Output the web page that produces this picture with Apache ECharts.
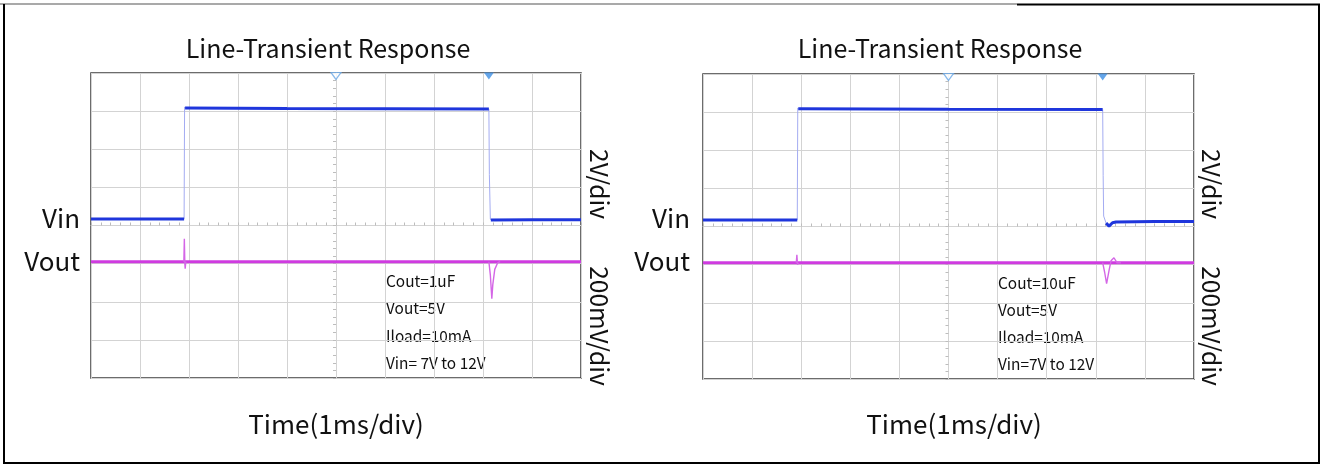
<!DOCTYPE html>
<html>
<head>
<meta charset="utf-8">
<title>Line-Transient Response</title>
<script src="https://cdn.jsdelivr.net/npm/echarts@6/dist/echarts.min.js"></script>
<style>
  html, body { margin: 0; padding: 0; background: #ffffff; }
  #chart { width: 1323px; height: 467px; }
</style>
</head>
<body>
<div id="chart"></div>
<script>
// Scope captures: time in ms (1 ms/div), Vin in V, Vout in V.
const timeRange = [0, 10];
const divRange = [-4, 4];            // 8 vertical divisions, centred
const triggerTime = 5.0;             // trigger marker (hollow)

// Left capture: Cout = 1uF
const vinLevelsL = [
  [[0, 7.0], [1.90, 7.0]],
  [[1.92, 12.0], [4.0, 11.98], [6.0, 11.97], [8.12, 11.955]],
  [[8.16, 6.96], [9.0, 6.97], [10, 6.97]]
];
const vinEdgesL = [
  [[1.90, 7.0], [1.91, 12.05], [1.92, 12.0]],
  [[8.12, 11.955], [8.13, 9.0], [8.15, 7.0], [8.16, 6.96]]
];
const voutLevelL = [[0, 5.0], [10, 5.0]];
const voutTransL = [
  [[1.895, 5.0], [1.905, 5.12], [1.915, 4.99], [1.922, 4.963], [1.935, 5.0]],
  [[8.12, 5.0], [8.15, 4.93], [8.18, 4.806], [8.20, 4.88], [8.24, 4.96], [8.30, 4.995], [8.35, 5.0]]
];
const cursorTimeL = 8.12;
const notesL = ['Cout=1uF', 'Vout=5V', 'Iload=10mA', 'Vin= 7V to 12V'];

// Right capture: Cout = 10uF
const vinLevelsR = [
  [[0, 7.0], [1.92, 7.0]],
  [[1.94, 12.02], [5.0, 11.99], [8.14, 11.98]],
  [[8.21, 6.86], [8.27, 6.73], [8.34, 6.88], [8.41, 6.91], [9.2, 6.93], [10, 6.94]]
];
const vinEdgesR = [
  [[1.92, 7.0], [1.93, 12.05], [1.94, 12.02]],
  [[8.14, 11.98], [8.15, 9.0], [8.16, 7.18], [8.21, 6.86]]
];
const voutLevelR = [[0, 5.0], [10, 5.0]];
const voutTransR = [
  [[1.90, 5.0], [1.912, 5.042], [1.925, 4.99], [1.94, 5.0]],
  [[8.14, 5.0], [8.18, 4.95], [8.22, 4.89], [8.27, 4.96], [8.31, 5.01], [8.37, 5.026], [8.43, 5.0], [8.51, 5.0]]
];
const cursorTimeR = 8.14;
const notesR = ['Cout=10uF', 'Vout=5V', 'Iload=10mA', 'Vin=7V to 12V'];

const chartTitle = 'Line-Transient Response';
const timeLabel = 'Time(1ms/div)';
const vinScaleLabel = '2V/div';
const voutScaleLabel = '200mV/div';

// Channel axis windows (volts shown across the 8 divisions)
const vinWindow = [-0.16, 13.58];
const voutWindow = [4.39, 5.99];

const VIN_COLOR = '#1f36dc';
const VIN_EDGE = '#a4acf2';
const VOUT_COLOR = '#cf3be0';
const VOUT_EDGE = '#d466e6';
const GRID_LINE = '#d3d3d3';
const FONT = '"Noto Sans CJK SC", "Noto Sans", sans-serif';

const chart = echarts.init(document.getElementById('chart'), null, { renderer: 'canvas' });

// join several trace segments into one broken polyline
function joinSegments(segs) {
  const out = [];
  segs.forEach((s, i) => {
    if (i) out.push(['-', '-']);
    s.forEach(p => out.push(p));
  });
  return out;
}

const grids = [
  { left: 91, top: 73, width: 490, height: 305 },
  { left: 703, top: 74, width: 491, height: 305 }
];

const xAxes = [];
const yAxes = [];
const series = [];

const captures = [
  { vinLevels: vinLevelsL, vinEdges: vinEdgesL, voutLevel: voutLevelL, voutTrans: voutTransL, cursor: cursorTimeL },
  { vinLevels: vinLevelsR, vinEdges: vinEdgesR, voutLevel: voutLevelR, voutTrans: voutTransR, cursor: cursorTimeR }
];

captures.forEach((c, g) => {
  const xt = xAxes.length, xc = xt + 1;
  const yd = yAxes.length, yv = yd + 1, yo = yd + 2;
  // time axis: vertical graticule
  xAxes.push({
    type: 'value', gridIndex: g, min: timeRange[0], max: timeRange[1], interval: 1,
    position: 'bottom',
    axisLine: { show: false, onZero: false }, axisTick: { show: false }, axisLabel: { show: false },
    splitLine: { show: true, lineStyle: { color: GRID_LINE, width: 1 } }
  });
  // centre horizontal reference line with fine ticks
  xAxes.push({
    type: 'value', gridIndex: g, min: -5, max: 5, interval: 1, position: 'top',
    axisLine: { show: true, onZero: true, onZeroAxisIndex: yd, lineStyle: { color: GRID_LINE, width: 1 } },
    axisTick: { show: true, length: 3, lineStyle: { color: '#bdbdbd' } },
    minorTick: { show: true, splitNumber: 5, length: 3, lineStyle: { color: '#bdbdbd' } },
    axisLabel: { show: false }, splitLine: { show: false }
  });
  // division axis: horizontal graticule + centre vertical line with fine ticks
  yAxes.push({
    type: 'value', gridIndex: g, min: divRange[0], max: divRange[1], interval: 1, position: 'left',
    axisLine: { show: true, onZero: true, onZeroAxisIndex: xc, lineStyle: { color: GRID_LINE, width: 1 } },
    axisTick: { show: true, length: 3, lineStyle: { color: '#bdbdbd' } },
    minorTick: { show: true, splitNumber: 5, length: 3, lineStyle: { color: '#bdbdbd' } },
    axisLabel: { show: false },
    splitLine: { show: true, lineStyle: { color: GRID_LINE, width: 1 } }
  });
  yAxes.push({ type: 'value', gridIndex: g, min: vinWindow[0], max: vinWindow[1], show: false, axisLine: { onZero: false } });
  yAxes.push({ type: 'value', gridIndex: g, min: voutWindow[0], max: voutWindow[1], show: false, axisLine: { onZero: false } });

  const common = { type: 'line', xAxisIndex: xt, showSymbol: false, symbol: 'none', silent: true, animation: false, connectNulls: false };
  series.push(Object.assign({}, common, {
    yAxisIndex: yv, data: joinSegments(c.vinEdges), z: 3,
    lineStyle: { color: VIN_EDGE, width: 1 }
  }));
  series.push(Object.assign({}, common, {
    yAxisIndex: yv, data: joinSegments(c.vinLevels), z: 4,
    lineStyle: { color: VIN_COLOR, width: 3 }
  }));
  series.push(Object.assign({}, common, {
    yAxisIndex: yo, data: c.voutLevel, z: 4,
    lineStyle: { color: VOUT_COLOR, width: 3 }
  }));
  series.push(Object.assign({}, common, {
    yAxisIndex: yo, data: joinSegments(c.voutTrans), z: 5,
    lineStyle: { color: VOUT_EDGE, width: 1.4 }
  }));
  // trigger / cursor markers on the top edge
  series.push({
    type: 'scatter', xAxisIndex: xt, yAxisIndex: yd, silent: true, animation: false, clip: false, z: 6,
    symbol: 'triangle', symbolRotate: 180, symbolSize: [10, 7], symbolOffset: [0, 3],
    data: [{ value: [triggerTime, divRange[1]], itemStyle: { color: '#ffffff', borderColor: '#6aa8e6', borderWidth: 1.2 } },
           { value: [c.cursor, divRange[1]], itemStyle: { color: '#3d8ee3' } }]
  });
});

function text(x, y, str, size, opts) {
  return Object.assign({
    type: 'text', x: x, y: y, silent: true,
    style: Object.assign({ text: str, fontSize: size, fontFamily: FONT, fill: '#111111',
      align: 'center', verticalAlign: 'middle' }, (opts && opts.style) || {})
  }, opts ? { rotation: opts.rotation || 0 } : {});
}

const graphic = [];
// outer frame
graphic.push({ type: 'line', silent: true, shape: { x1: 0, y1: 4, x2: 1017, y2: 4 }, style: { stroke: '#555555', lineWidth: 1.2 } });
graphic.push({ type: 'polyline', silent: true, shape: { points: [[1017, 4.5], [1319, 4.5], [1319, 463], [4, 463], [4, 4]] }, style: { stroke: '#000000', lineWidth: 2, fill: null } });

const layouts = [
  { titleX: 328, timeX: 336, chanX: 80, scaleX: 599, noteX: 386, noteY: [281, 308, 336, 363], notes: notesL },
  { titleX: 940, timeX: 954, chanX: 690, scaleX: 1211, noteX: 998, noteY: [283, 310, 337, 364], notes: notesR }
];
layouts.forEach(L => {
  graphic.push(text(L.titleX, 48, chartTitle, 25));
  graphic.push(text(L.timeX, 424, timeLabel, 26));
  graphic.push(text(L.chanX, 218, 'Vin', 26, { style: { align: 'right' } }));
  graphic.push(text(L.chanX, 261, 'Vout', 26, { style: { align: 'right' } }));
  graphic.push(text(L.scaleX, 184, vinScaleLabel, 24.5, { rotation: -Math.PI / 2 }));
  graphic.push(text(L.scaleX, 326, voutScaleLabel, 24.5, { rotation: -Math.PI / 2 }));
  L.notes.forEach((n, i) => graphic.push(text(L.noteX, L.noteY[i], n, 15.4, { style: { align: 'left' } })));
});

chart.setOption({
  backgroundColor: '#ffffff',
  animation: false,
  grid: grids.map(g => Object.assign({ show: true, borderColor: '#3c3c3c', borderWidth: 1.5, backgroundColor: 'transparent', containLabel: false }, g)),
  xAxis: xAxes,
  yAxis: yAxes,
  series: series,
  graphic: graphic
});
</script>
</body>
</html>
